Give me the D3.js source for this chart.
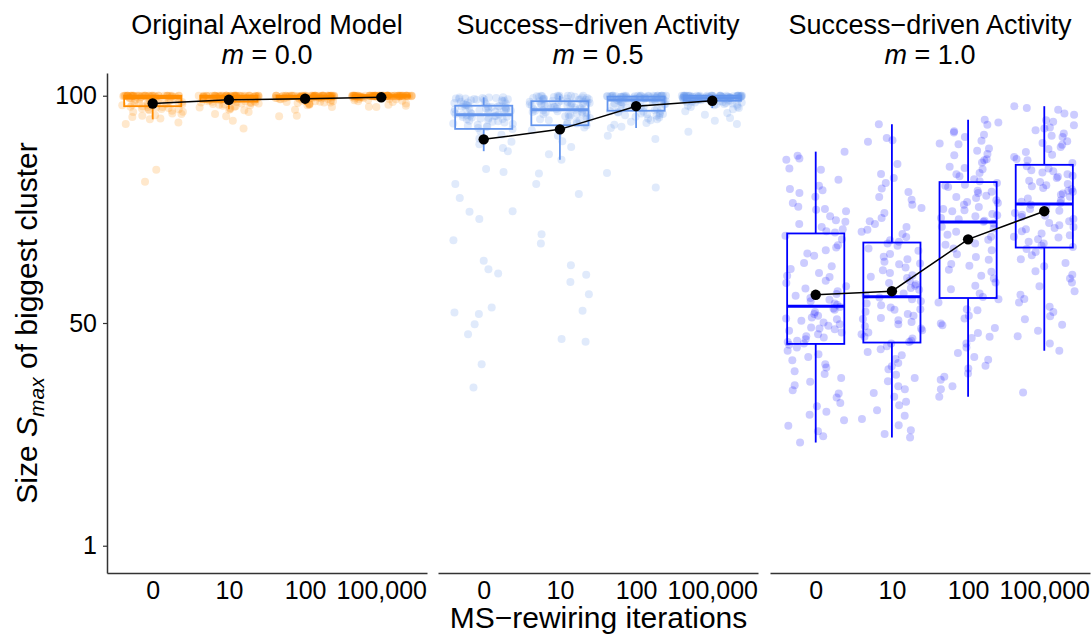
<!DOCTYPE html>
<html lang="en">
<head>
<meta charset="UTF-8">
<title>Size of biggest cluster</title>
<script src="https://d3js.org/d3.v7.min.js"></script>
<style>
  body { margin: 0; background: #fff; }
  text { font-family: "Liberation Sans", Arial, sans-serif; fill: #000; }
</style>
</head>
<body>
<svg></svg>
<script>
const categories = ["0", "10", "100", "100,000"];
const panelTitles = ["Original Axelrod Model", "Success\u2212driven Activity", "Success\u2212driven Activity"];
const panelM = ["0.0", "0.5", "1.0"];
const panelColors = ["#ff8c00", "#6495ed", "#0000ff"];
const yTicks = [1, 50, 100];

// boxplot stats, [panel][category]
const lower  = [[94.8, 97.0, 98.0, 98.6], [87.8, 85.9, 92.9, 97.3], [23.7, 24.8, 33.8, 43.9]];
const q1     = [[97.7, 98.7, 99.3, 99.8], [92.7, 93.5, 96.7, 98.9], [45.4, 45.7, 55.5, 66.6]];
const median = [[99.6, 99.7, 99.8, 100], [95.8, 96.9, 99.06, 99.5], [53.7, 55.8, 72.2, 76.2]];
const q3     = [[100, 100, 100, 100], [97.8, 98.8, 99.8, 100], [69.7, 67.7, 81.0, 84.8]];
const upper  = [[100, 100, 100, 100], [99.65, 100, 100, 100], [87.7, 93.7, 94.7, 97.7]];
const means  = [[98.3, 99.1, 99.35, 99.65], [90.4, 92.6, 97.7, 98.9], [56.2, 57.0, 68.4, 74.6]];

// single runs (S_max), m = 0.0
const p1c0 = [94.1, 93.8, 83.7, 81.1, 94.8, 95.0, 95.3, 95.6, 95.7, 96.0, 96.1, 96.4, 96.5, 96.7, 96.8, 97.0, 97.0, 97.1, 97.2, 97.3, 97.4, 97.5, 97.5, 97.6, 97.7,
  97.8, 97.9, 98.0, 98.0, 98.1, 98.2, 98.3, 98.4, 98.4, 98.5, 98.6, 98.7, 98.7, 98.8, 98.9, 99.0, 99.0, 99.1, 99.2, 99.2, 99.3, 99.4, 99.4, 99.5, 99.6,
  99.6, 99.7, 99.7, 99.7, 99.8, 99.8, 99.8, 99.8, 99.9, 99.9, 99.9, 99.9, 99.9, 100, 100, 100, 100, 100, 100, 100, 100, 100, 100, 100, 100,
  100, 100, 100, 100, 100, 100, 100, 100, 100, 100, 100, 100, 100, 100, 100, 100, 100, 100, 100, 100, 100, 100, 100, 100, 100];
const p1c1 = [92.8, 94.5, 95.5, 96.0, 96.4, 96.8, 96.9, 97.1, 97.3, 97.4, 97.6, 97.7, 97.8, 97.9, 98.0, 98.1, 98.2, 98.3, 98.3, 98.4, 98.5, 98.5, 98.6, 98.6, 98.7,
  98.8, 98.8, 98.9, 99.0, 99.0, 99.1, 99.1, 99.2, 99.2, 99.3, 99.3, 99.4, 99.4, 99.4, 99.5, 99.5, 99.5, 99.6, 99.6, 99.6, 99.7, 99.7, 99.7, 99.7, 99.7,
  99.8, 99.8, 99.8, 99.8, 99.8, 99.8, 99.8, 99.8, 99.9, 99.9, 99.9, 99.9, 99.9, 99.9, 99.9, 99.9, 100, 100, 100, 100, 100, 100, 100, 100, 100,
  100, 100, 100, 100, 100, 100, 100, 100, 100, 100, 100, 100, 100, 100, 100, 100, 100, 100, 100, 100, 100, 100, 100, 100, 100];
const p1c2 = [95.5, 95.6, 96.9, 97.5, 97.9, 98.0, 98.1, 98.2, 98.3, 98.4, 98.5, 98.5, 98.6, 98.7, 98.8, 98.8, 98.9, 99.0, 99.0, 99.1, 99.1, 99.2, 99.2, 99.3, 99.3,
  99.4, 99.4, 99.4, 99.4, 99.5, 99.5, 99.5, 99.5, 99.6, 99.6, 99.6, 99.6, 99.6, 99.7, 99.7, 99.7, 99.7, 99.7, 99.7, 99.8, 99.8, 99.8, 99.8, 99.8, 99.8,
  99.9, 99.9, 99.9, 99.9, 99.9, 99.9, 99.9, 99.9, 99.9, 99.9, 100, 100, 100, 100, 100, 100, 100, 100, 100, 100, 100, 100, 100, 100, 100,
  100, 100, 100, 100, 100, 100, 100, 100, 100, 100, 100, 100, 100, 100, 100, 100, 100, 100, 100, 100, 100, 100, 100, 100, 100];
const p1c3 = [97.5, 97.6, 97.8, 98.0, 98.3, 98.6, 98.8, 98.9, 99.0, 99.1, 99.2, 99.3, 99.3, 99.4, 99.5, 99.5, 99.6, 99.6, 99.7, 99.7, 99.8, 99.8, 99.8, 99.8, 99.8,
  99.9, 99.9, 99.9, 99.9, 99.9, 99.9, 99.9, 99.9, 99.9, 99.9, 99.9, 99.9, 99.9, 99.9, 99.9, 100, 100, 100, 100, 100, 100, 100, 100, 100, 100,
  100, 100, 100, 100, 100, 100, 100, 100, 100, 100, 100, 100, 100, 100, 100, 100, 100, 100, 100, 100, 100, 100, 100, 100, 100,
  100, 100, 100, 100, 100, 100, 100, 100, 100, 100, 100, 100, 100, 100, 100, 100, 100, 100, 100, 100, 100, 100, 100, 100, 100];

// m = 0.5
const p2c0 = [83.2, 83.9, 80.6, 77.5, 74.5, 74.6, 72.9, 68.2, 63.7, 61.8, 60.9, 53.4, 52.3, 52.0, 49.7, 47.5, 40.9, 35.8,
  87.8, 88.5, 89.3, 89.9, 90.6, 91.4, 92.2,
  92.7, 92.9, 93.1, 93.3, 93.4, 93.6, 93.8, 93.9, 94.1, 94.3, 94.4, 94.5, 94.7, 94.8, 94.9, 95.0, 95.1, 95.2, 95.3, 95.4, 95.5, 95.6, 95.6, 95.7, 95.8,
  95.9, 96.0, 96.1, 96.2, 96.3, 96.4, 96.5, 96.6, 96.7, 96.8, 96.9, 97.0, 97.0, 97.1, 97.2, 97.3, 97.3, 97.4, 97.5, 97.5, 97.6, 97.6, 97.7, 97.7, 97.8,
  97.9, 98.0, 98.1, 98.2, 98.3, 98.4, 98.5, 98.6, 98.7, 98.8, 98.9, 99.0, 99.0, 99.1, 99.2, 99.2, 99.3, 99.3, 99.4, 99.4, 99.5, 99.5, 99.6, 99.6, 99.65];
const p2c1 = [82.9, 80.6, 78.4, 69.5, 67.5, 62.7, 60.6, 59.0, 56.3, 52.7, 46.5, 45.9,
  85.9, 87.1, 88.7, 90.0, 91.2, 92.4, 93.0,
  93.5, 93.7, 93.9, 94.1, 94.3, 94.5, 94.6, 94.8, 95.0, 95.1, 95.3, 95.4, 95.5, 95.7, 95.8, 95.9, 96.0, 96.1, 96.2, 96.3, 96.4, 96.5, 96.6, 96.7, 96.8, 96.9, 96.9,
  97.0, 97.1, 97.2, 97.3, 97.3, 97.4, 97.5, 97.6, 97.6, 97.7, 97.8, 97.8, 97.9, 98.0, 98.0, 98.1, 98.2, 98.2, 98.3, 98.4, 98.4, 98.5, 98.6, 98.6, 98.7, 98.7, 98.8,
  98.9, 98.9, 99.0, 99.1, 99.1, 99.2, 99.2, 99.3, 99.3, 99.4, 99.4, 99.5, 99.5, 99.6, 99.6, 99.7, 99.7, 99.8, 99.8, 99.9, 99.9, 100, 100, 100, 100, 100, 100];
const p2c2 = [90.5, 91.2, 83.0, 79.8,
  92.9, 93.2, 93.6, 94.0, 94.3, 94.6, 94.8, 95.0, 95.2, 95.4, 95.6, 95.7, 95.8, 95.9, 96.0, 96.1, 96.2, 96.3, 96.4, 96.5, 96.6,
  96.7, 96.8, 97.0, 97.1, 97.3, 97.4, 97.6, 97.7, 97.8, 98.0, 98.1, 98.2, 98.3, 98.4, 98.5, 98.6, 98.6, 98.7, 98.8, 98.8, 98.9, 98.9, 99.0, 99.0, 99.1,
  99.1, 99.2, 99.2, 99.2, 99.3, 99.3, 99.3, 99.4, 99.4, 99.4, 99.5, 99.5, 99.5, 99.5, 99.6, 99.6, 99.6, 99.6, 99.7, 99.7, 99.7, 99.7, 99.8, 99.8, 99.8,
  99.8, 99.9, 99.9, 99.9, 99.9, 99.9, 99.9, 99.9, 99.9, 100, 100, 100, 100, 100, 100, 100, 100, 100, 100, 100, 100, 100, 100, 100, 100];
const p2c3 = [92.1, 93.8, 94.5, 95.1, 95.8, 96.2, 96.6, 97.0,
  97.3, 97.5, 97.6, 97.8, 97.9, 98.0, 98.1, 98.2, 98.3, 98.4, 98.5, 98.5, 98.6, 98.7, 98.7, 98.8, 98.9,
  98.9, 99.0, 99.0, 99.1, 99.1, 99.1, 99.2, 99.2, 99.2, 99.3, 99.3, 99.3, 99.3, 99.4, 99.4, 99.4, 99.4, 99.4, 99.5, 99.5, 99.5, 99.5, 99.5, 99.5, 99.5,
  99.6, 99.6, 99.6, 99.6, 99.6, 99.6, 99.7, 99.7, 99.7, 99.7, 99.7, 99.7, 99.8, 99.8, 99.8, 99.8, 99.8, 99.8, 99.8, 99.9, 99.9, 99.9, 99.9, 99.9, 99.9,
  100, 100, 100, 100, 100, 100, 100, 100, 100, 100, 100, 100, 100, 100, 100, 100, 100, 100, 100, 100, 100, 100, 100, 100, 100];

// m = 1.0
const p3c0 = [87.7, 86.8, 86.2, 85.9, 84.0, 83.7, 81.5, 80.2, 79.5, 79.2, 78.6, 77.8, 76.4, 75.6, 75.1, 74.9, 74.6, 73.5, 72.6, 72.3, 71.8, 71.1, 70.6, 70.2, 69.9,
  69.2, 68.4, 67.1, 66.6, 66.0, 65.3, 64.8, 63.2, 62.5, 61.9, 61.0, 60.4, 60.1, 59.3, 58.8, 58.1, 57.6, 57.0, 56.4, 56.0, 55.5, 55.1, 54.8, 54.3, 54.0,
  53.5, 53.2, 52.9, 52.4, 52.0, 51.6, 51.2, 51.0, 50.8, 50.5, 50.1, 49.7, 49.4, 49.0, 48.8, 48.6, 48.3, 47.9, 47.5, 47.1, 46.8, 46.4, 46.1, 45.8, 45.5,
  45.2, 44.6, 43.9, 43.1, 42.5, 41.8, 40.9, 40.2, 39.4, 38.8, 37.9, 37.1, 36.3, 35.2, 34.5, 33.6, 32.4, 31.7, 30.5, 29.8, 28.6, 27.4, 26.2, 25.1, 23.7];
const p3c1 = [93.7, 90.7, 90.2, 89.9, 85.0, 82.8, 81.9, 80.8, 79.6, 78.8, 77.7, 77.1, 76.0, 75.3, 74.2, 73.1, 72.4, 71.8, 71.1, 70.5, 70.1, 69.6, 68.9, 68.2, 67.9,
  67.5, 67.0, 66.4, 65.9, 65.2, 64.6, 64.0, 63.5, 63.1, 62.9, 62.2, 61.6, 61.0, 60.5, 60.2, 59.9, 59.3, 58.8, 58.5, 58.2, 57.7, 57.3, 56.9, 56.5, 56.1,
  55.6, 55.2, 54.8, 54.3, 53.9, 53.4, 53.0, 52.9, 52.5, 52.0, 51.6, 51.1, 50.9, 50.6, 50.2, 49.7, 49.3, 48.8, 48.4, 47.9, 47.5, 47.0, 46.6, 46.1, 45.8,
  45.5, 44.9, 44.2, 43.6, 42.9, 42.1, 41.2, 40.5, 39.8, 38.6, 37.9, 37.2, 36.1, 35.4, 34.6, 33.8, 32.7, 31.9, 30.8, 29.6, 28.9, 27.5, 26.4, 25.6, 24.8];
const p3c2 = [94.7, 94.1, 93.6, 92.2, 91.9, 91.4, 90.9, 90.1, 89.5, 89.3, 88.4, 87.9, 87.2, 86.9, 86.0, 85.8, 85.3, 84.4, 84.1, 83.8, 83.0, 82.7, 82.3, 81.6, 81.2,
  80.8, 80.4, 80.2, 79.9, 79.1, 78.9, 78.6, 78.0, 77.7, 77.5, 77.0, 76.6, 76.4, 76.0, 75.5, 75.1, 74.8, 74.6, 74.0, 73.7, 73.5, 73.1, 72.8, 72.5, 72.3,
  71.9, 71.2, 70.8, 70.1, 69.4, 69.0, 68.3, 67.5, 67.2, 66.4, 66.0, 65.1, 64.5, 63.9, 63.0, 62.6, 61.7, 61.3, 60.4, 59.8, 58.9, 58.2, 57.4, 56.5, 55.7,
  55.2, 54.5, 53.0, 52.8, 51.6, 51.0, 49.9, 49.5, 48.9, 47.8, 47.0, 46.7, 45.5, 44.6, 43.4, 42.5, 41.9, 40.6, 40.0, 38.9, 38.2, 37.5, 36.1, 35.4, 33.8];
const p3c3 = [97.7, 97.3, 96.9, 96.1, 95.8, 94.6, 94.3, 93.5, 93.0, 92.8, 92.4, 91.7, 91.2, 90.9, 90.0, 89.6, 89.2, 88.7, 88.3, 87.6, 87.0, 86.5, 86.1, 85.8, 85.2,
  84.5, 84.0, 83.6, 83.4, 83.1, 82.7, 82.4, 82.2, 81.9, 81.3, 81.0, 80.6, 80.3, 80.1, 79.7, 79.4, 79.1, 78.9, 78.5, 78.2, 77.8, 77.4, 77.0, 76.7, 76.4,
  76.0, 75.6, 75.1, 74.7, 74.2, 73.8, 73.6, 73.3, 72.9, 72.4, 72.0, 71.5, 71.1, 70.9, 70.6, 70.2, 69.7, 69.3, 69.0, 68.8, 68.4, 67.9, 67.5, 67.0, 66.7,
  66.3, 65.6, 64.9, 64.0, 63.2, 62.5, 61.4, 60.6, 59.8, 58.9, 58.1, 57.0, 56.2, 55.3, 54.5, 53.6, 52.4, 51.5, 50.8, 49.6, 48.3, 47.1, 45.5, 43.9, 34.7];

const runs = [[p1c0, p1c1, p1c2, p1c3], [p2c0, p2c1, p2c2, p2c3], [p3c0, p3c1, p3c2, p3c3]];

const width = 1091, height = 637;
const svg = d3.select("svg").attr("width", width).attr("height", height);

const panelLeft = [107, 438, 770];
const panelW = 320;
const plotTop = 73, plotBottom = 573;

const y = d3.scaleLinear().domain([-5, 105]).range([plotBottom, plotTop]);

// fixed pseudo-jitter so the picture is the same every time
function jitter(i, k) {
  const s = Math.sin((i + 1) * 12.9898 + k * 78.233) * 43758.5453;
  return (s - Math.floor(s)) * 2 - 1;
}

panelTitles.forEach((title, p) => {
  const x = d3.scalePoint().domain(categories)
    .range([panelLeft[p], panelLeft[p] + panelW]).padding(0.6);
  const step = x.step();
  const boxW = step * 0.75;
  const col = panelColors[p];
  const cx = panelLeft[p] + panelW / 2;
  const g = svg.append("g");

  // jittered runs
  categories.forEach((c, ci) => {
    g.append("g").selectAll("circle")
      .data(runs[p][ci])
      .join("circle")
      .attr("cx", (d, i) => x(c) + jitter(i, p * 4 + ci) * 0.4 * step)
      .attr("cy", d => y(d))
      .attr("r", 4)
      .attr("fill", col)
      .attr("fill-opacity", 0.2);
  });

  // boxplots
  const boxes = g.append("g").selectAll("g")
    .data(categories)
    .join("g")
    .attr("fill", "none")
    .attr("stroke", col);
  boxes.append("line")
    .attr("x1", c => x(c)).attr("x2", c => x(c))
    .attr("y1", (c, i) => y(q3[p][i])).attr("y2", (c, i) => y(upper[p][i]))
    .attr("stroke-width", 1.8);
  boxes.append("line")
    .attr("x1", c => x(c)).attr("x2", c => x(c))
    .attr("y1", (c, i) => y(q1[p][i])).attr("y2", (c, i) => y(lower[p][i]))
    .attr("stroke-width", 1.8);
  boxes.append("rect")
    .attr("x", c => x(c) - boxW / 2)
    .attr("width", boxW)
    .attr("y", (c, i) => y(q3[p][i]))
    .attr("height", (c, i) => y(q1[p][i]) - y(q3[p][i]))
    .attr("stroke-width", 1.8);
  boxes.append("line")
    .attr("x1", c => x(c) - boxW / 2).attr("x2", c => x(c) + boxW / 2)
    .attr("y1", (c, i) => y(median[p][i])).attr("y2", (c, i) => y(median[p][i]))
    .attr("stroke-width", 3);

  // means
  const line = d3.line().x((d, i) => x(categories[i])).y(d => y(d));
  g.append("path")
    .attr("d", line(means[p]))
    .attr("fill", "none")
    .attr("stroke", "#000")
    .attr("stroke-width", 1.5);
  g.selectAll(".mean")
    .data(means[p])
    .join("circle")
    .attr("class", "mean")
    .attr("cx", (d, i) => x(categories[i]))
    .attr("cy", d => y(d))
    .attr("r", 5.2)
    .attr("fill", "#000");

  // x axis
  const xAxis = svg.append("g")
    .attr("transform", `translate(0,${plotBottom})`)
    .call(d3.axisBottom(x).tickSize(0).tickSizeOuter(0).tickPadding(8));
  xAxis.select(".domain").attr("stroke", "#333").attr("stroke-width", 1.5);
  xAxis.selectAll("text").attr("font-size", 25).attr("fill", "#000")
    .attr("font-family", "Liberation Sans, Arial, sans-serif");

  // panel title, two lines
  svg.append("text")
    .attr("x", cx).attr("y", 34)
    .attr("text-anchor", "middle")
    .attr("font-size", 27)
    .text(title);
  const t2 = svg.append("text")
    .attr("x", cx).attr("y", 64)
    .attr("text-anchor", "middle")
    .attr("font-size", 27);
  t2.append("tspan").attr("font-style", "italic").text("m");
  t2.append("tspan").text(" = " + panelM[p]);
});

// y axis only on the first panel
const yAxis = svg.append("g")
  .attr("transform", `translate(${panelLeft[0]},0)`)
  .call(d3.axisLeft(y).tickValues(yTicks).tickSize(4).tickSizeOuter(0).tickPadding(6));
yAxis.select(".domain").attr("stroke", "#333").attr("stroke-width", 1.5);
yAxis.selectAll(".tick line").attr("stroke", "#333").attr("stroke-width", 1.2);
yAxis.selectAll("text").attr("font-size", 25).attr("fill", "#000")
  .attr("font-family", "Liberation Sans, Arial, sans-serif");

// axis titles
const yl = svg.append("text")
  .attr("transform", `translate(37,${(plotTop + plotBottom) / 2}) rotate(-90)`)
  .attr("text-anchor", "middle")
  .attr("font-size", 30);
yl.append("tspan").text("Size ");
yl.append("tspan").attr("font-style", "italic").text("S");
yl.append("tspan").attr("font-style", "italic").attr("font-size", 21).attr("dy", 7).text("max");
yl.append("tspan").attr("dy", -7).text(" of biggest cluster");

svg.append("text")
  .attr("x", (panelLeft[0] + panelLeft[2] + panelW) / 2)
  .attr("y", 628)
  .attr("text-anchor", "middle")
  .attr("font-size", 30)
  .text("MS\u2212rewiring iterations");
</script>
</body>
</html>
